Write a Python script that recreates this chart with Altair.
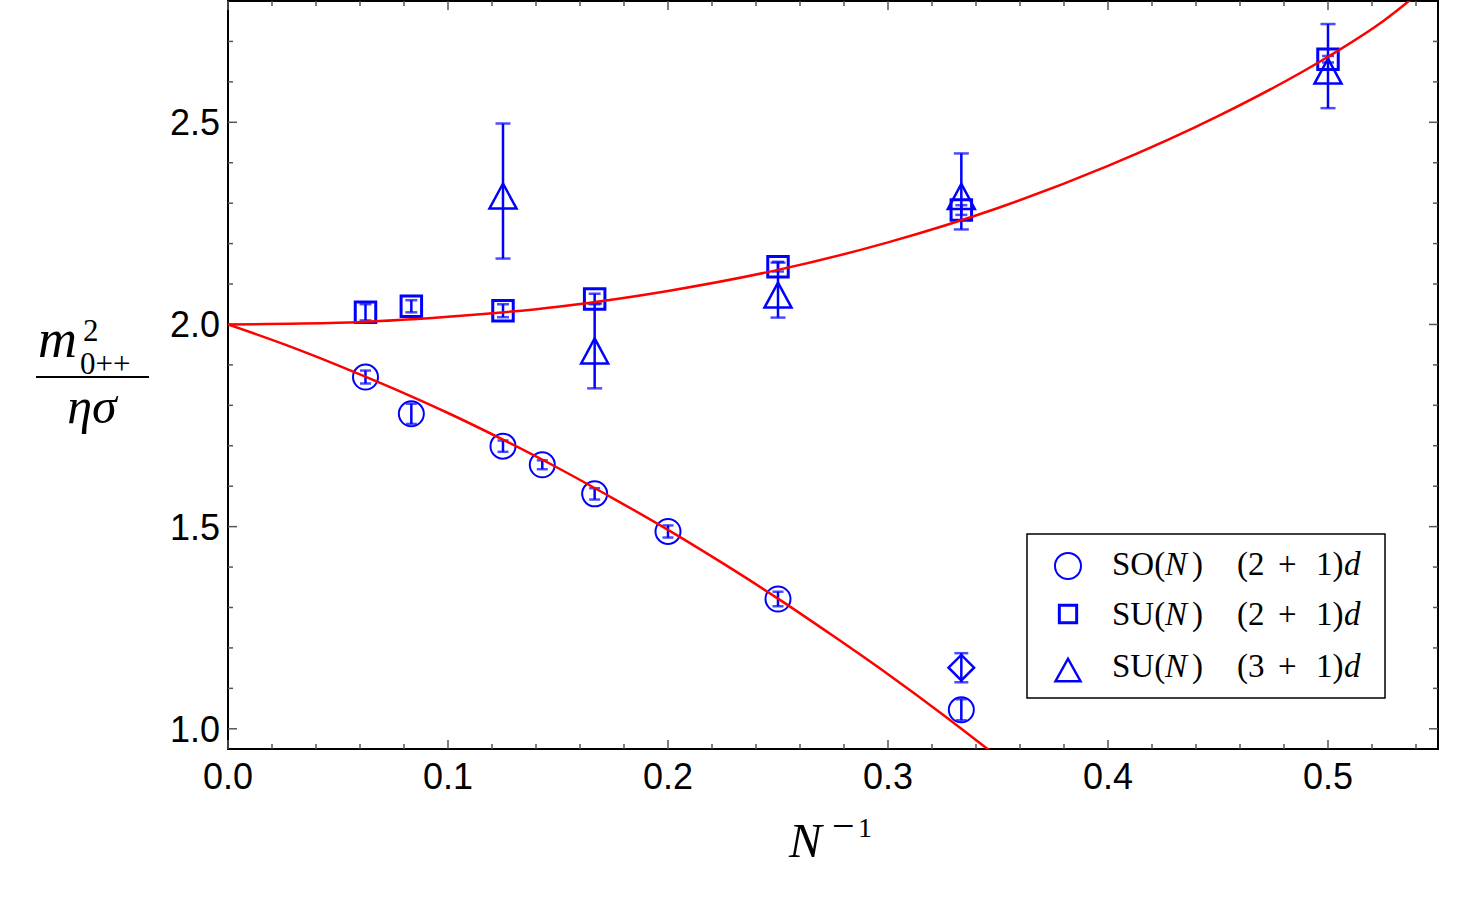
import altair as alt
import pandas as pd

# ---------------- data ----------------
so_x = [1/16, 1/12, 1/8, 1/7, 1/6, 1/5, 1/4, 1/3]
so_y = [1.870, 1.779, 1.699, 1.653, 1.581, 1.488, 1.321, 1.047]
so_e = [0.016, 0.025, 0.014, 0.011, 0.014, 0.015, 0.018, 0.026]

su2_x = [1/16, 1/12, 1/8, 1/6, 1/4, 1/3, 1/2]
su2_y = [2.030, 2.045, 2.034, 2.063, 2.143, 2.283, 2.656]
su2_e = [0.020, 0.015, 0.016, 0.013, 0.012, 0.012, 0.008]

su3_x = [1/8, 1/6, 1/4, 1/3, 1/2]
su3_y = [2.330, 1.947, 2.085, 2.329, 2.639]
su3_e = [0.167, 0.105, 0.068, 0.094, 0.104]

dia_x = [1/3]
dia_y = [1.151]
dia_e = [0.036]

upper_x = [0.0, 0.05, 0.1, 0.15, 0.2, 0.25, 0.3, 0.35, 0.4, 0.45, 0.5, 0.525, 0.55]
upper_y = [2.0, 2.004, 2.019, 2.044, 2.083, 2.135, 2.203, 2.288, 2.392, 2.515, 2.662, 2.750, 2.860]

lower_x = [0.0, 0.025, 0.05, 0.075, 0.1, 0.125, 0.15, 0.175, 0.2, 0.225, 0.25, 0.275, 0.3, 0.325, 0.35]
lower_y = [2.0, 1.952, 1.899, 1.842, 1.781, 1.715, 1.645, 1.570, 1.492, 1.409, 1.322, 1.230, 1.135, 1.035, 0.930]

x_major = [0.0, 0.1, 0.2, 0.3, 0.4, 0.5]
x_minor = [0.02, 0.04, 0.06, 0.08, 0.12, 0.14, 0.16, 0.18, 0.22, 0.24, 0.26, 0.28,
           0.32, 0.34, 0.36, 0.38, 0.42, 0.44, 0.46, 0.48, 0.52, 0.54]
y_major = [1.0, 1.5, 2.0, 2.5]
y_minor = [1.1, 1.2, 1.3, 1.4, 1.6, 1.7, 1.8, 1.9, 2.1, 2.2, 2.3, 2.4, 2.6, 2.7]
x_labels = ["0.0", "0.1", "0.2", "0.3", "0.4", "0.5"]
y_labels = ["1.0", "1.5", "2.0", "2.5"]

legend_rows = ["SO(", "SU(", "SU("]
legend_dims = ["(2", "(2", "(3"]

# ---------------- styling ----------------
BLUE = "#0000FF"
RED = "#FF0000"
TICK = "#555555"
W, H = 1210, 748
xs = alt.Scale(domain=[0, 0.55], nice=False, zero=False)
ys = alt.Scale(domain=[0.95, 2.8], nice=False, zero=False)


def X(f):
    return alt.X(f, scale=xs, axis=None)


def Y(f):
    return alt.Y(f, scale=ys, axis=None)


def df_err(xv, yv, ev):
    return pd.DataFrame({"x": xv, "y": yv,
                         "lo": [a - b for a, b in zip(yv, ev)],
                         "hi": [a + b for a, b in zip(yv, ev)]})


def errbars(d, cap):
    rule = alt.Chart(d).mark_rule(color=BLUE, strokeWidth=2.5).encode(
        x=X("x:Q"), y=Y("lo:Q"), y2="hi:Q")
    lo = alt.Chart(d).mark_tick(color=BLUE, orient="horizontal", size=cap, thickness=2.5).encode(
        x=X("x:Q"), y=Y("lo:Q"))
    hi = alt.Chart(d).mark_tick(color=BLUE, orient="horizontal", size=cap, thickness=2.5).encode(
        x=X("x:Q"), y=Y("hi:Q"))
    return [rule, lo, hi]


def points(d, shape, size, sw):
    return alt.Chart(d).mark_point(shape=shape, size=size, filled=False, color=BLUE,
                                   strokeWidth=sw, opacity=1).encode(x=X("x:Q"), y=Y("y:Q"))


one = pd.DataFrame({"a": [0]})


def txt(x, y, s, size, style="normal", font="Liberation Serif", align="left"):
    return alt.Chart(one).mark_text(text=s, fontSize=size, fontStyle=style, font=font,
                                    align=align, baseline="alphabetic", color="black").encode(
        x=alt.value(x), y=alt.value(y))


TRI = "M0,-0.556L1,1.296L-1,1.296Z"
TRI_LEG = "M0,-0.9L1,0.9L-1,0.9Z"

so = df_err(so_x, so_y, so_e)
su2 = df_err(su2_x, su2_y, su2_e)
su3 = df_err(su3_x, su3_y, su3_e)
dia = df_err(dia_x, dia_y, dia_e)

layers = []

# tick labels (drawn as text from the label arrays)
layers.append(alt.Chart(pd.DataFrame({"x": x_major, "lab": x_labels})).mark_text(
    font="Liberation Sans", fontSize=36, baseline="alphabetic", align="center", color="black").encode(
    x=X("x:Q"), y=alt.value(788), text="lab:N"))
layers.append(alt.Chart(pd.DataFrame({"y": y_major, "lab": y_labels})).mark_text(
    font="Liberation Sans", fontSize=36, baseline="alphabetic", align="right", dy=13,
    color="black").encode(y=Y("y:Q"), x=alt.value(-8), text="lab:N"))


# ticks (inward) on all four sides
def xticks(vals, length):
    d = pd.DataFrame({"x": vals})
    b = alt.Chart(d).mark_rule(color=TICK, strokeWidth=1.5).encode(
        x=X("x:Q"), y=alt.value(H), y2=alt.value(H - length))
    t = alt.Chart(d).mark_rule(color=TICK, strokeWidth=1.5).encode(
        x=X("x:Q"), y=alt.value(0), y2=alt.value(length))
    return [b, t]


def yticks(vals, length):
    d = pd.DataFrame({"y": vals})
    l = alt.Chart(d).mark_rule(color=TICK, strokeWidth=1.5).encode(
        y=Y("y:Q"), x=alt.value(0), x2=alt.value(length))
    r = alt.Chart(d).mark_rule(color=TICK, strokeWidth=1.5).encode(
        y=Y("y:Q"), x=alt.value(W), x2=alt.value(W - length))
    return [l, r]

layers += xticks(x_major, 9) + xticks(x_minor, 5) + yticks(y_major, 9) + yticks(y_minor, 5)

# error bars and markers
layers += errbars(so, 11) + errbars(su2, 12) + errbars(su3, 15) + errbars(dia, 14)
layers += [points(so, "circle", 625, 2),
           points(su2, "square", 420, 3),
           points(su3, TRI, 729, 2.5),
           points(dia, "diamond", 650, 2.5)]

# fitted curves
curves = pd.concat([
    pd.DataFrame({"x": upper_x, "y": upper_y, "c": "upper"}),
    pd.DataFrame({"x": lower_x, "y": lower_y, "c": "lower"})])
layers.append(alt.Chart(curves).mark_line(color=RED, strokeWidth=2.5, interpolate="monotone",
                                          clip=True).encode(
    x=X("x:Q"), y=Y("y:Q"), detail="c:N"))

# legend
layers.append(alt.Chart(one).mark_rect(fill="white", stroke="black", strokeWidth=1.5).encode(
    x=alt.value(799), x2=alt.value(1157), y=alt.value(533), y2=alt.value(697)))
leg_markers = [("circle", 676, 2, 565), ("square", 300, 3, 613), (TRI_LEG, 625, 2.5, 669)]
for shp, sz, sw, yy in leg_markers:
    layers.append(alt.Chart(one).mark_point(shape=shp, size=sz, filled=False, color=BLUE,
                                            strokeWidth=sw, opacity=1).encode(
        x=alt.value(840), y=alt.value(yy)))
for grp, dim, yy in zip(legend_rows, legend_dims, [574, 624, 676]):
    layers += [txt(884, yy, grp, 33),
               txt(937, yy, "N", 33, "italic"),
               txt(964, yy, ")", 33),
               txt(1009, yy, dim, 33),
               txt(1050, yy, "+", 33),
               txt(1088, yy, "1)", 33),
               txt(1116, yy, "d", 33, "italic")]

# axis titles
layers += [txt(561, 856, "N", 49, "italic"),
           txt(604, 838, "\u2212", 40),
           txt(630, 836, "1", 28)]
layers += [txt(-190, 356, "m", 54, "italic"),
           txt(-145, 340, "2", 31),
           txt(-148, 373, "0++", 31),
           txt(-136, 422, "\u03b7\u03c3", 50, "italic", align="center")]
layers.append(alt.Chart(one).mark_rule(color="black", strokeWidth=2).encode(
    x=alt.value(-192), x2=alt.value(-79), y=alt.value(376)))

chart = alt.layer(*layers).properties(
    width=W, height=H,
    padding={"left": 228, "top": 1, "right": 21, "bottom": 164},
    autosize=alt.AutoSizeParams(type="none"),
    background="white",
).configure_view(stroke="black", strokeWidth=2)

chart.save("out.html", embed_options={"renderer": "svg", "actions": False})
